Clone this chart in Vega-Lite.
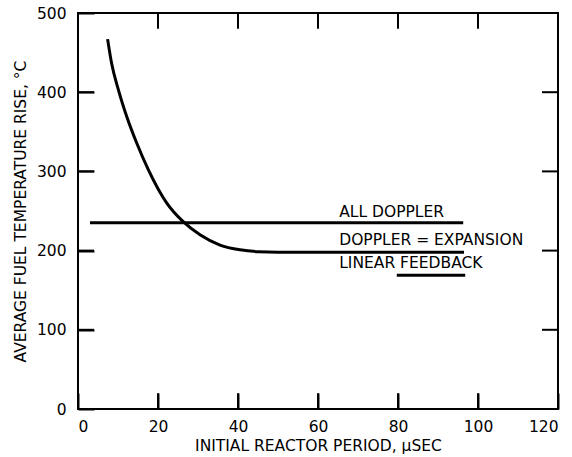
{
  "$schema": "https://vega.github.io/schema/vega-lite/v6.json",
  "width": 480,
  "height": 396,
  "autosize": {"type": "none"},
  "padding": {"left": 78, "top": 13, "right": 14, "bottom": 48},
  "background": "white",
  "config": {
    "view": {"stroke": "black", "strokeWidth": 2},
    "font": "DejaVu Sans",
    "axis": {
      "domain": false,
      "ticks": true,
      "tickColor": "black",
      "tickWidth": 2,
      "tickSize": 16,
      "offset": -16,
      "grid": false,
      "labelFont": "DejaVu Sans",
      "labelFontSize": 15.5,
      "labelColor": "black",
      "titleFont": "DejaVu Sans",
      "titleFontSize": 15.5,
      "titleFontWeight": "normal",
      "titleColor": "black"
    }
  },
  "datasets": {
    "curves": [
      {"s": "curve", "x": 7.4, "y": 467},
      {"s": "curve", "x": 8.4, "y": 436.5},
      {"s": "curve", "x": 10.1, "y": 403},
      {"s": "curve", "x": 12.2, "y": 369},
      {"s": "curve", "x": 14.7, "y": 335.5},
      {"s": "curve", "x": 17.6, "y": 302},
      {"s": "curve", "x": 22.2, "y": 260},
      {"s": "curve", "x": 26.3, "y": 236.5},
      {"s": "curve", "x": 30.5, "y": 220},
      {"s": "curve", "x": 35.5, "y": 207},
      {"s": "curve", "x": 40.5, "y": 201},
      {"s": "curve", "x": 45.1, "y": 198.6},
      {"s": "curve", "x": 50.0, "y": 198},
      {"s": "curve", "x": 70.0, "y": 198},
      {"s": "curve", "x": 96.5, "y": 198},
      {"s": "alldoppler", "x": 3.0, "y": 235.2},
      {"s": "alldoppler", "x": 96.3, "y": 235.2},
      {"s": "linear", "x": 79.7, "y": 169},
      {"s": "linear", "x": 96.8, "y": 169}
    ],
    "labels": [
      {"label": "ALL DOPPLER", "x": 65.3, "y": 242.8},
      {"label": "DOPPLER = EXPANSION", "x": 65.3, "y": 207},
      {"label": "LINEAR FEEDBACK", "x": 65.3, "y": 177.6}
    ],
    "ticks": [
      {"t": "b20", "x": 20, "y": 0}, {"t": "b20", "x": 20, "y": 20},
      {"t": "b40", "x": 40, "y": 0}, {"t": "b40", "x": 40, "y": 20},
      {"t": "b60", "x": 60, "y": 0}, {"t": "b60", "x": 60, "y": 20},
      {"t": "b80", "x": 80, "y": 0}, {"t": "b80", "x": 80, "y": 20},
      {"t": "b100", "x": 100, "y": 0}, {"t": "b100", "x": 100, "y": 20},
      {"t": "t20", "x": 20, "y": 480}, {"t": "t20", "x": 20, "y": 500},
      {"t": "t40", "x": 40, "y": 480}, {"t": "t40", "x": 40, "y": 500},
      {"t": "t60", "x": 60, "y": 480}, {"t": "t60", "x": 60, "y": 500},
      {"t": "t80", "x": 80, "y": 480}, {"t": "t80", "x": 80, "y": 500},
      {"t": "t100", "x": 100, "y": 480}, {"t": "t100", "x": 100, "y": 500},
      {"t": "l100", "x": 0, "y": 100}, {"t": "l100", "x": 4, "y": 100},
      {"t": "l200", "x": 0, "y": 200}, {"t": "l200", "x": 4, "y": 200},
      {"t": "l300", "x": 0, "y": 300}, {"t": "l300", "x": 4, "y": 300},
      {"t": "l400", "x": 0, "y": 400}, {"t": "l400", "x": 4, "y": 400},
      {"t": "r100", "x": 116, "y": 100}, {"t": "r100", "x": 120, "y": 100},
      {"t": "r200", "x": 116, "y": 200}, {"t": "r200", "x": 120, "y": 200},
      {"t": "r300", "x": 116, "y": 300}, {"t": "r300", "x": 120, "y": 300},
      {"t": "r400", "x": 116, "y": 400}, {"t": "r400", "x": 120, "y": 400}
    ]
  },
  "layer": [
    {
      "data": {"name": "curves"},
      "mark": {"type": "line", "color": "black", "strokeWidth": 3, "interpolate": "monotone"},
      "encoding": {
        "x": {
          "field": "x", "type": "quantitative",
          "scale": {"domain": [0, 120], "nice": false, "zero": false},
          "axis": {
            "orient": "bottom",
            "values": [0, 20, 40, 60, 80, 100, 120],
            "labelPadding": 10,
            "title": "INITIAL REACTOR PERIOD, μSEC",
            "titlePadding": 4
          }
        },
        "y": {
          "field": "y", "type": "quantitative",
          "scale": {"domain": [0, 500], "nice": false, "zero": false},
          "axis": {
            "orient": "left",
            "values": [0, 100, 200, 300, 400, 500],
            "labelPadding": 12,
            "title": "AVERAGE FUEL TEMPERATURE RISE, °C",
            "titlePadding": 8
          }
        },
        "detail": {"field": "s"}
      }
    },
    {
      "data": {"name": "ticks"},
      "mark": {"type": "line", "color": "black", "strokeWidth": 2},
      "encoding": {
        "x": {"field": "x", "type": "quantitative"},
        "y": {"field": "y", "type": "quantitative"},
        "detail": {"field": "t"}
      }
    },
    {
      "data": {"name": "labels"},
      "mark": {"type": "text", "align": "left", "baseline": "alphabetic", "fontSize": 15.5, "font": "DejaVu Sans", "color": "black"},
      "encoding": {
        "x": {"field": "x", "type": "quantitative"},
        "y": {"field": "y", "type": "quantitative"},
        "text": {"field": "label"}
      }
    }
  ]
}
